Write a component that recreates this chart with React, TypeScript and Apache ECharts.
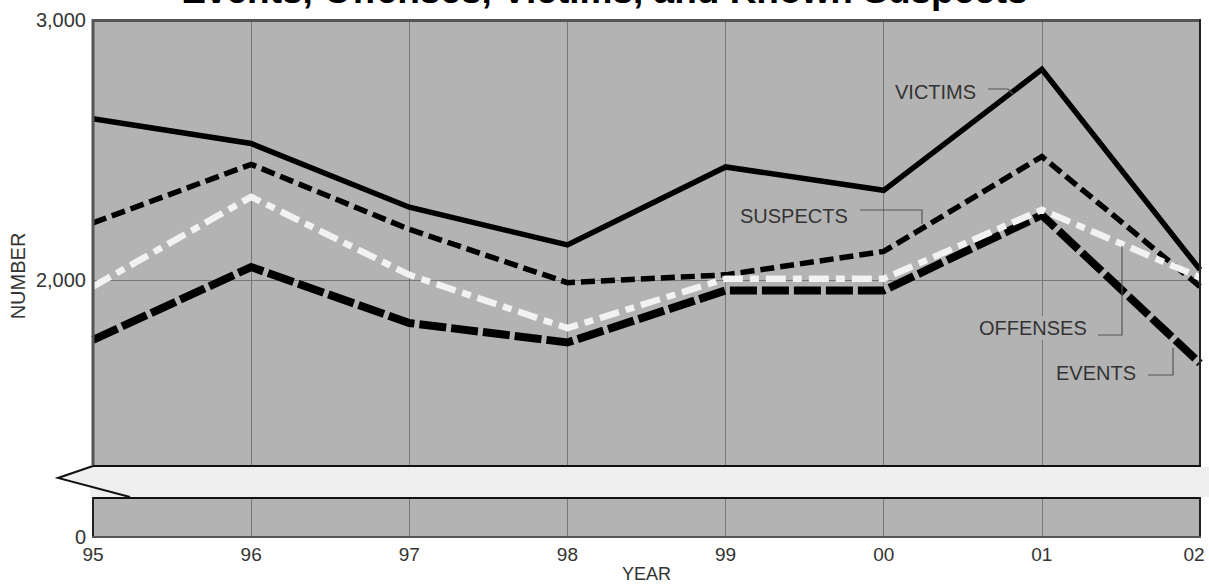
import React, { useEffect, useRef } from 'react';
import * as echarts from 'echarts';

// ---- data ----
const years = ['95', '96', '97', '98', '99', '00', '01', '02'];
const victims = [2620, 2525, 2280, 2135, 2435, 2345, 2810, 2040];
const suspects = [2220, 2445, 2195, 1990, 2020, 2110, 2475, 1975];
const offenses = [1975, 2320, 2020, 1815, 2005, 2005, 2270, 2010];
const events = [1770, 2050, 1835, 1760, 1960, 1960, 2250, 1680];
const upperTicks = [2000, 3000];
const upperRange = { min: 1285, max: 3000 };
const lowerRange = { min: 0, max: 150 };
const titleText = 'Events, Offenses, Victims, and Known Suspects';

const FONT = "'Liberation Sans', Arial, Helvetica, sans-serif";
const PANEL = '#b3b3b3';
const BAND = '#efefef';
const TXT = '#333';

export default function App() {
  const ref = useRef<HTMLDivElement>(null);

  useEffect(() => {
    if (!ref.current) return;
    const chart = echarts.init(ref.current, null, { renderer: 'svg' });

    const line = (x1: number, y1: number, x2: number, y2: number, color: string, w: number) => ({
      type: 'line',
      shape: { x1, y1, x2, y2 },
      style: { stroke: color, lineWidth: w },
      z: 101,
      silent: true,
    });
    const leader = (pts: number[][]) => ({
      type: 'polyline',
      shape: { points: pts },
      style: { stroke: '#555', lineWidth: 1.2, fill: null },
      z: 102,
      silent: true,
    });
    const label = (text: string, x: number, y: number, bg?: boolean) => ({
      type: 'text',
      x,
      y,
      style: {
        text,
        fill: TXT,
        font: `20px ${FONT}`,
        verticalAlign: 'middle',
        align: 'left',
        backgroundColor: bg ? PANEL : undefined,
        padding: bg ? [2, 3, 2, 3] : undefined,
      },
      z: 103,
      silent: true,
    });

    const gridBase = { left: 93, width: 1107, show: true, backgroundColor: PANEL, borderWidth: 0, outerBoundsMode: 'none', containLabel: false };
    const vSplit = { show: true, lineStyle: { color: '#777', width: 1 } };
    const labelStyle = { color: TXT, fontFamily: FONT };

    const lineSeries = (name: string, data: number[], z: number, lineStyle: any, extra: any = {}) => ({
      name,
      type: 'line',
      xAxisIndex: 0,
      yAxisIndex: 0,
      data,
      symbol: 'none',
      z,
      lineStyle: { cap: 'butt', join: 'miter', ...lineStyle },
      ...extra,
    });

    const option: any = {
      animation: false,
      title: {
        text: titleText,
        left: 'center',
        top: -33,
        textStyle: { fontSize: 37, fontWeight: 'bold', color: '#000', fontFamily: FONT },
      },
      grid: [
        { ...gridBase, top: 20, height: 446 },
        { ...gridBase, top: 498, height: 39 },
      ],
      xAxis: [
        {
          type: 'category',
          gridIndex: 0,
          data: years,
          boundaryGap: false,
          axisLine: { show: false },
          axisTick: { show: false },
          axisLabel: { show: false },
          splitLine: vSplit,
        },
        {
          type: 'category',
          gridIndex: 1,
          data: years,
          boundaryGap: false,
          axisLine: { show: false },
          axisTick: { show: false },
          axisLabel: {
            ...labelStyle,
            fontSize: 19,
            margin: 8,
            formatter: (v: string, i: number) => (i === years.length - 1 ? `{last|${v}}` : v),
            rich: { last: { ...labelStyle, fontSize: 19, padding: [0, 12, 0, 0] } },
          },
          splitLine: vSplit,
          name: 'YEAR',
          nameLocation: 'middle',
          nameGap: 28,
          nameTextStyle: { ...labelStyle, fontSize: 18 },
        },
      ],
      yAxis: [
        {
          type: 'value',
          gridIndex: 0,
          min: upperRange.min,
          max: upperRange.max,
          axisLine: { show: false },
          axisTick: { show: false },
          axisLabel: { show: false },
          splitLine: { show: false },
        },
        {
          type: 'value',
          gridIndex: 1,
          min: lowerRange.min,
          max: lowerRange.max,
          interval: lowerRange.max,
          axisLine: { show: false },
          axisTick: { show: false },
          axisLabel: {
            ...labelStyle,
            fontSize: 20,
            margin: 7,
            formatter: (v: number) => (v === 0 ? '0' : ''),
          },
          splitLine: { show: false },
        },
      ],
      series: [
        lineSeries('EVENTS', events, 2, { color: '#000', width: 8, type: [27, 5] }, {
          markLine: {
            silent: true,
            z: 1,
            symbol: 'none',
            animation: false,
            lineStyle: { color: '#777', width: 1, type: 'solid' },
            label: {
              show: true,
              position: 'start',
              distance: 7,
              ...labelStyle,
              fontSize: 20,
              formatter: (p: any) => Number(p.value).toLocaleString('en-US'),
            },
            data: upperTicks.map((v) => ({ yAxis: v })),
          },
        }),
        lineSeries('SUSPECTS', suspects, 3, { color: '#000', width: 5.5, type: [14, 6] }),
        lineSeries('OFFENSES', offenses, 4, { color: '#f2f2f2', width: 6.5, type: [20, 7, 9, 7] }),
        lineSeries('VICTIMS', victims, 5, { color: '#000', width: 5.5 }),
      ],
      graphic: [
        // break band
        { type: 'rect', shape: { x: 90, y: 467, width: 1119, height: 30 }, style: { fill: BAND }, z: 100, silent: true },
        { type: 'polygon', shape: { points: [[94, 466], [58, 478], [130, 497], [94, 499]] }, style: { fill: BAND }, z: 100, silent: true },
        { type: 'polyline', shape: { points: [[93, 466], [58, 478], [130, 497]] }, style: { stroke: '#111', lineWidth: 2, fill: null }, z: 101, silent: true },
        // upper panel borders
        line(92, 20.5, 1201, 20.5, '#555', 3),
        line(93, 19, 93, 466, '#555', 3),
        line(1200, 19, 1200, 467, '#222', 2),
        line(93, 466, 1201, 466, '#111', 2),
        // lower panel borders
        line(93, 498, 1201, 498, '#111', 2),
        line(93, 497, 93, 538, '#222', 2),
        line(1200, 497, 1200, 538, '#222', 2),
        line(92, 537, 1201, 537, '#555', 2),
        // y axis title
        {
          type: 'text',
          x: 18,
          y: 276,
          rotation: Math.PI / 2,
          style: { text: 'NUMBER', fill: TXT, font: `20px ${FONT}`, align: 'center', verticalAlign: 'middle' },
          z: 103,
          silent: true,
        },
        // annotations
        label('VICTIMS', 895, 92),
        leader([[988, 89], [1008, 89], [1013, 94]]),
        label('SUSPECTS', 740, 216),
        leader([[860, 210], [922, 210], [922, 224]]),
        label('OFFENSES', 976, 328, true),
        leader([[1098, 335], [1122, 335], [1122, 246]]),
        label('EVENTS', 1056, 373),
        leader([[1148, 375], [1173, 375], [1173, 348]]),
      ],
    };

    chart.setOption(option);
    return () => chart.dispose();
  }, []);

  return (
    <div
      ref={ref}
      style={{ position: 'fixed', left: 0, top: 0, width: 1209, height: 586, background: '#fff' }}
    />
  );
}
